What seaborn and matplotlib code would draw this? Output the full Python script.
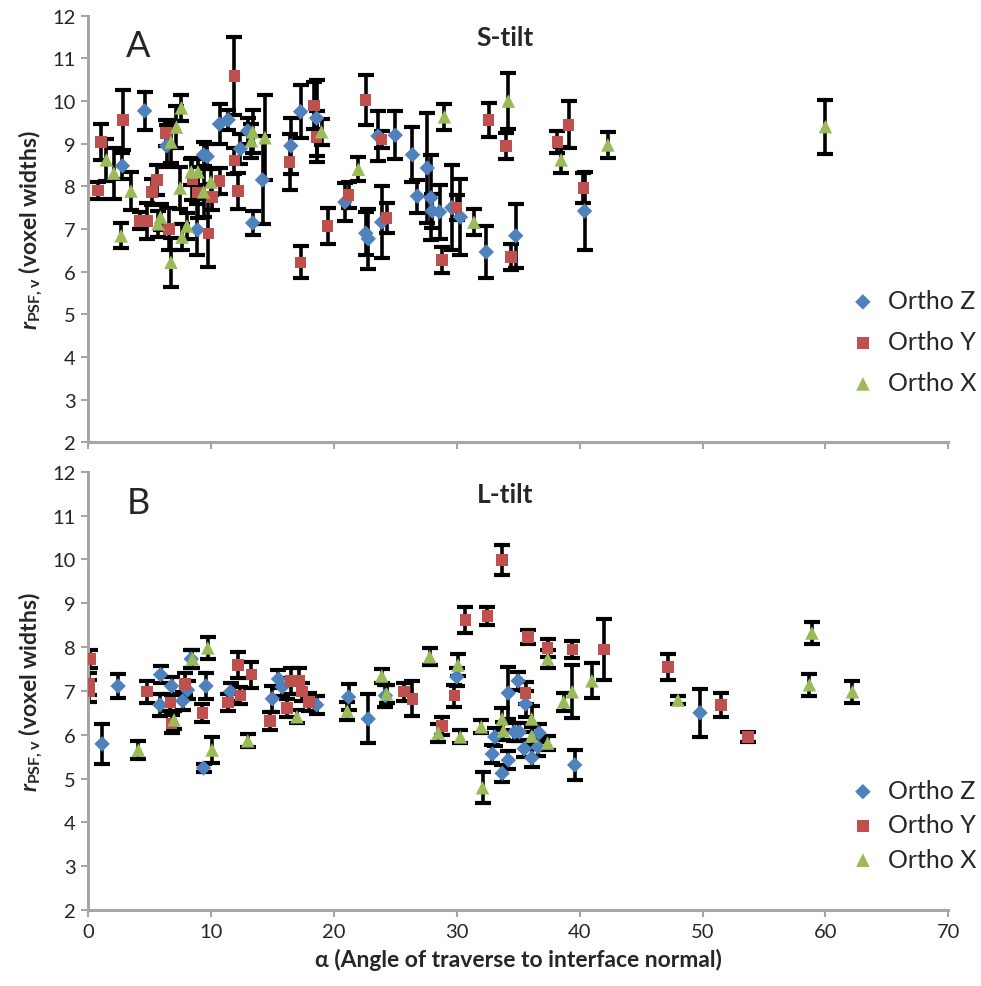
import numpy as np
import pandas as pd
import matplotlib
matplotlib.use("Agg")
import matplotlib.pyplot as plt
import seaborn as sns

# ---- Panel A (S-tilt) ----
a_z_x = [2.8, 4.6, 6.4, 8.9, 9.4, 9.7, 10.7, 11.4, 12.4, 13.0, 13.4, 14.2, 16.5, 17.3, 18.6, 20.9,
         22.6, 22.8, 23.6, 23.9, 25.0, 26.4, 26.8, 27.6, 27.9, 28.0, 28.6, 29.6, 30.3, 32.4, 34.8, 40.4]
a_z_y = [8.48, 9.77, 8.95, 6.98, 8.74, 8.70, 9.46, 9.56, 8.88, 9.3, 7.14, 8.15, 8.95, 9.75, 9.6, 7.63,
         6.9, 6.77, 9.18, 7.16, 9.2, 8.74, 7.77, 8.43, 7.73, 7.42, 7.40, 7.5, 7.28, 6.46, 6.84, 7.42]
a_z_err = [0.3, 0.45, 0.5, 0.6, 0.3, 0.3, 0.47, 0.23, 0.35, 0.3, 0.27, 1.03, 0.65, 0.62, 0.9, 0.45,
           0.5, 0.7, 0.59, 0.85, 0.56, 0.64, 0.39, 1.3, 1.0, 0.4, 0.63, 1.0, 0.9, 0.61, 0.75, 0.92]

a_y_x = [0.8, 1.06, 2.85, 4.2, 4.8, 5.2, 5.6, 6.35, 6.6, 8.5, 8.95, 9.8, 10.1, 10.7, 11.9, 11.9, 12.2,
         16.4, 17.3, 18.4, 18.6, 19.5, 21.2, 22.6, 23.9, 24.3, 28.8, 30.0, 32.6, 34.0, 34.4, 38.2, 39.1, 40.3]
a_y_y = [7.9, 9.04, 9.56, 7.19, 7.19, 7.87, 8.15, 9.25, 7.0, 8.17, 7.85, 6.9, 7.75, 8.13, 10.59, 8.6, 7.89,
         8.57, 6.22, 9.89, 9.16, 7.07, 7.8, 10.03, 9.1, 7.26, 6.27, 7.5, 9.56, 8.95, 6.34, 9.04, 9.44, 7.96]
a_y_err = [0.2, 0.43, 0.7, 0.2, 0.43, 0.3, 0.35, 0.3, 0.5, 0.5, 0.6, 0.8, 0.3, 0.3, 0.92, 0.3, 0.43,
           0.66, 0.37, 0.55, 0.6, 0.43, 0.3, 0.58, 0.2, 0.35, 0.3, 0.3, 0.4, 0.3, 0.3, 0.25, 0.55, 0.35]

a_x_x = [1.5, 2.1, 2.7, 3.5, 5.7, 5.9, 6.75, 6.75, 7.2, 7.5, 7.6, 7.65, 8.05, 8.4, 8.95, 9.4, 10.0,
         13.3, 13.4, 14.4, 19.0, 22.0, 29.0, 31.4, 34.2, 38.5, 42.3, 60.0]
a_x_y = [8.62, 8.31, 6.84, 7.89, 7.12, 7.28, 9.04, 6.22, 9.39, 7.96, 9.84, 6.81, 7.07, 8.34, 8.34, 7.87, 8.1,
         9.07, 9.28, 9.14, 9.28, 8.4, 9.63, 7.16, 10.0, 8.62, 8.97, 9.4]
a_x_err = [0.5, 0.6, 0.29, 0.45, 0.3, 0.3, 0.5, 0.57, 0.5, 0.5, 0.3, 0.3, 0.3, 0.3, 0.3, 0.6, 0.3,
           0.4, 0.5, 1.0, 0.3, 0.28, 0.3, 0.3, 0.66, 0.31, 0.3, 0.63]

# ---- Panel B (L-tilt) ----
b_z_x = [1.15, 2.45, 5.85, 5.9, 6.8, 7.7, 8.1, 8.4, 9.4, 9.6, 11.6, 15.0, 15.5, 15.8, 18.6, 21.2, 22.8,
         24.2, 30.0, 32.9, 33.1, 33.7, 34.2, 34.2, 34.7, 35.0, 35.1, 35.5, 35.6, 36.1, 36.6, 36.7, 39.6, 49.8]
b_z_y = [5.79, 7.11, 6.68, 7.37, 7.11, 6.77, 7.02, 7.73, 5.24, 7.11, 6.98, 6.82, 7.27, 7.09, 6.68, 6.86, 6.36,
         6.89, 7.32, 5.56, 5.95, 5.12, 6.95, 5.42, 6.06, 7.23, 6.06, 5.68, 6.70, 5.47, 5.72, 6.04, 5.31, 6.5]
b_z_err = [0.45, 0.27, 0.25, 0.2, 0.2, 0.2, 0.2, 0.2, 0.1, 0.3, 0.2, 0.3, 0.2, 0.2, 0.2, 0.3, 0.56,
           0.25, 0.2, 0.2, 0.2, 0.2, 0.6, 0.2, 0.2, 0.2, 0.2, 0.2, 0.3, 0.2, 0.2, 0.2, 0.34, 0.55]

b_y_x = [0.1, 0.1, 0.15, 4.8, 6.7, 6.8, 7.9, 9.3, 11.4, 12.2, 12.4, 13.3, 14.8, 16.2, 16.5, 17.2, 17.4,
         18.0, 25.7, 26.4, 28.8, 29.8, 30.7, 32.5, 33.7, 35.6, 35.8, 37.4, 39.4, 42.0, 47.2, 51.5, 53.7]
b_y_y = [7.0, 7.16, 7.73, 6.98, 6.73, 6.25, 7.16, 6.5, 6.73, 7.59, 6.89, 7.37, 6.31, 6.61, 7.23, 7.23, 6.98,
         6.75, 6.98, 6.82, 6.2, 6.89, 8.62, 8.71, 9.99, 6.95, 8.23, 7.98, 7.94, 7.94, 7.55, 6.68, 5.95]
b_y_err = [0.25, 0.25, 0.2, 0.25, 0.2, 0.2, 0.25, 0.2, 0.2, 0.3, 0.2, 0.3, 0.2, 0.2, 0.3, 0.3, 0.2,
           0.2, 0.2, 0.4, 0.2, 0.25, 0.3, 0.2, 0.35, 0.25, 0.15, 0.2, 0.2, 0.7, 0.3, 0.27, 0.12]

b_x_x = [4.1, 7.0, 8.5, 9.75, 10.1, 13.0, 17.0, 21.1, 23.9, 24.3, 27.8, 28.5, 30.1, 30.3, 32.0, 32.1, 33.7,
         33.8, 36.1, 36.1, 37.4, 37.4, 38.7, 39.4, 41.0, 48.0, 58.7, 58.9, 62.2]
b_x_y = [5.65, 6.34, 7.73, 7.98, 5.65, 5.86, 6.41, 6.54, 7.34, 6.93, 7.78, 6.04, 7.59, 5.95, 6.18, 4.79, 6.36,
         6.09, 6.36, 5.97, 7.73, 5.81, 6.75, 6.98, 7.23, 6.79, 7.14, 8.32, 6.98]
b_x_err = [0.2, 0.2, 0.2, 0.25, 0.3, 0.15, 0.15, 0.2, 0.15, 0.2, 0.2, 0.2, 0.25, 0.15, 0.15, 0.35, 0.25,
           0.2, 0.3, 0.2, 0.2, 0.15, 0.2, 0.6, 0.4, 0.1, 0.25, 0.25, 0.25]

series_names = ["Ortho Z", "Ortho Y", "Ortho X"]
colors = ["#4F81BD", "#C0504D", "#9BBB59"]
markers = ["D", "s", "^"]
sizes = [62, 68, 95]

sns.set_style("white")
plt.rcParams['font.family'] = ['Lato', 'DejaVu Sans']
# only the y label uses mathtext, so make it bold throughout
plt.rcParams['mathtext.fontset'] = 'custom'
plt.rcParams['mathtext.rm'] = 'Lato:weight=bold'
plt.rcParams['mathtext.it'] = 'Lato:style=italic:weight=bold'
plt.rcParams['mathtext.bf'] = 'Lato:weight=bold'

fig = plt.figure(figsize=(9.81, 9.87), dpi=100)
ax_a = fig.add_axes([0.0897, 0.551, 0.877, 0.432])
ax_b = fig.add_axes([0.0897, 0.077, 0.877, 0.444])

panels = [
    (ax_a, "A", "S-tilt", [(a_z_x, a_z_y, a_z_err), (a_y_x, a_y_y, a_y_err), (a_x_x, a_x_y, a_x_err)], 0.235, 0.72),
    (ax_b, "B", "L-tilt", [(b_z_x, b_z_y, b_z_err), (b_y_x, b_y_y, b_y_err), (b_x_x, b_x_y, b_x_err)], 0.194, 0.45),
]

for ax, letter, title, data, leg_y, spacing in panels:
    for (xs, ys, es), name, col, mk, sz in zip(data, series_names, colors, markers, sizes):
        ax.errorbar(xs, ys, yerr=es, fmt="none", ecolor="black", elinewidth=2.6,
                    capsize=6, capthick=3.0, zorder=2)
        df = pd.DataFrame({"alpha": xs, "r": ys})
        sns.scatterplot(data=df, x="alpha", y="r", marker=mk, color=col, s=sz,
                        edgecolor="none", ax=ax, zorder=3, label=name)
    ax.set_xlim(0, 70)
    ax.set_ylim(2, 12)
    ax.set_yticks(range(2, 13))
    ax.set_xticks(range(0, 71, 10))
    for side in ["top", "right"]:
        ax.spines[side].set_visible(False)
    for side in ["left", "bottom"]:
        ax.spines[side].set_color("#a6a6a6")
        ax.spines[side].set_linewidth(2.2)
    ax.tick_params(axis="y", direction="out", length=5, width=1.5, color="#a6a6a6",
                   labelsize=14.5, left=True, pad=4)
    ax.tick_params(axis="x", direction="out", length=5, width=1.5, color="#a6a6a6",
                   labelsize=14.5, bottom=True, pad=4)
    ax.set_ylabel(r"$r_{\rm PSF,v}$ (voxel widths)", fontsize=16.5, fontweight="bold", labelpad=5)
    ax.set_xlabel("")
    ax.text(0.058, 0.93, letter, transform=ax.transAxes, fontsize=26, ha="center", va="center")
    ax.text(0.485, 0.95, title, transform=ax.transAxes, fontsize=19, fontweight="bold",
            ha="center", va="center")
    ax.legend(loc="center left", bbox_to_anchor=(0.86, leg_y), frameon=False, fontsize=18,
              handletextpad=0.0, labelspacing=spacing, borderaxespad=0, markerscale=1.0)

ax_a.tick_params(axis="x", labelbottom=False)
ax_b.set_xlabel("α (Angle of traverse to interface normal)", fontsize=16.5, fontweight="bold", labelpad=6)

fig.savefig("out.png", dpi=100)
